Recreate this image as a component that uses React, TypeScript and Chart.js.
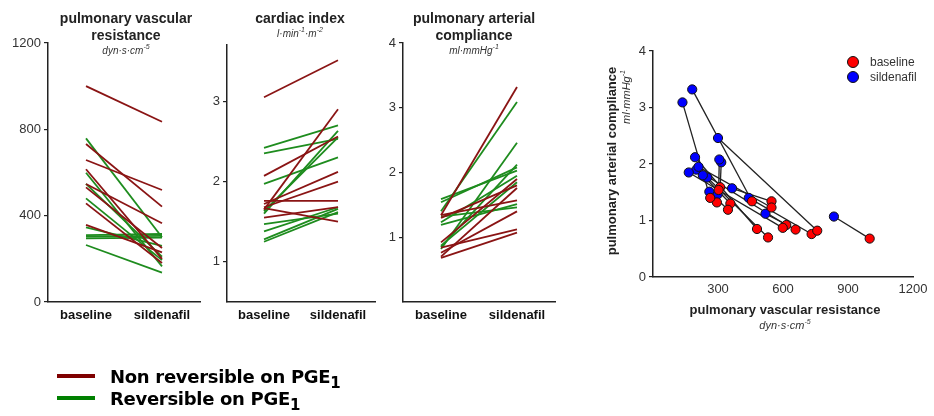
import React, { useEffect, useRef } from 'react';
import { Chart, registerables } from 'chart.js';
Chart.register(...registerables);

// ---------------- data ----------------
const CATEGORIES = ['baseline', 'sildenafil'];
// N = non reversible on PGE1, R = reversible on PGE1
const GROUP = ['N', 'N', 'N', 'N', 'N', 'N', 'N', 'N', 'R', 'R', 'R', 'R', 'R', 'R', 'R', 'R', 'R'];
const PVR_BASE = [1000, 732, 658, 615, 547, 531, 457, 357, 758, 599, 547, 480, 346, 310, 303, 295, 264];
const PVR_SIL = [835, 442, 519, 200, 365, 250, 181, 230, 300, 165, 210, 194, 260, 315, 306, 298, 136];
const CI_BASE = [3.05, 2.07, 1.65, 1.72, 1.68, 1.76, 1.67, 1.55, 2.42, 2.35, 1.97, 1.6, 1.63, 1.38, 1.25, 1.28, 1.47];
const CI_SIL = [3.51, 2.56, 2.9, 2.12, 2.0, 1.76, 1.5, 1.68, 2.7, 2.53, 2.3, 2.63, 2.55, 1.68, 1.62, 1.66, 1.6];
const PAC_BASE = [0.68, 0.76, 0.84, 0.92, 1.34, 0.7, 1.34, 1.3, 0.82, 0.87, 1.23, 0.85, 1.19, 1.59, 1.54, 1.32, 1.4];
const PAC_SIL = [1.07, 1.4, 1.12, 1.9, 1.57, 1.76, 3.32, 1.8, 2.46, 1.85, 1.95, 2.12, 1.51, 2.03, 2.08, 1.46, 3.09];

const PVR_TICKS = [0, 400, 800, 1200];
const CI_TICKS = [1, 2, 3];
const PAC_TICKS = [1, 2, 3, 4];
const SC_X_TICKS = [300, 600, 900, 1200];
const SC_Y_TICKS = [0, 1, 2, 3, 4];

// ---------------- style ----------------
const W = 934;
const H = 416;
const Y_W = 40;
const X_H = 30;
const FONT = '"Liberation Sans", Arial, sans-serif';
const RED_LINE = '#8a1414';
const GREEN_LINE = '#1e8c1e';

type Area = { left: number; right: number; top: number; bottom: number };

function layoutFor(a: Area) {
  return {
    padding: {
      left: a.left - Y_W,
      right: W - a.right,
      top: a.top,
      bottom: H - a.bottom - X_H,
    },
  };
}

const plainNumber = (v: any) => String(v);

function slopeConfig(base: number[], sil: number[], yMin: number, yMax: number, yTicks: number[], area: Area): any {
  const datasets = base.map((b, i) => ({
    data: [
      { x: 0, y: b },
      { x: 1, y: sil[i] },
    ],
    showLine: true,
    borderColor: GROUP[i] === 'N' ? RED_LINE : GREEN_LINE,
    borderWidth: 1.8,
    pointRadius: 0,
    pointHoverRadius: 0,
  }));
  return {
    type: 'scatter',
    data: { datasets },
    options: {
      responsive: false,
      animation: false,
      events: [],
      layout: layoutFor(area),
      plugins: { legend: { display: false }, tooltip: { enabled: false } },
      scales: {
        x: {
          type: 'linear',
          min: -0.5,
          max: 1.5,
          afterFit: (s: any) => {
            s.height = X_H;
          },
          afterBuildTicks: (s: any) => {
            s.ticks = [{ value: 0 }, { value: 1 }];
          },
          grid: { display: false, drawTicks: true, tickLength: 2 },
          border: { display: true, color: '#222', width: 1.5 },
          ticks: {
            autoSkip: false,
            maxRotation: 0,
            padding: 4,
            color: '#111',
            font: { family: FONT, size: 13, weight: 'bold' },
            callback: (v: any) => CATEGORIES[v] ?? '',
          },
        },
        y: {
          type: 'linear',
          min: yMin,
          max: yMax,
          afterFit: (s: any) => {
            s.width = Y_W;
          },
          afterBuildTicks: (s: any) => {
            s.ticks = yTicks.map((v) => ({ value: v }));
          },
          grid: { display: true, drawOnChartArea: false, drawTicks: true, tickLength: 4, color: '#222', lineWidth: 1.2 },
          border: { display: true, color: '#222', width: 1.5 },
          ticks: {
            autoSkip: false,
            padding: 3,
            color: '#333',
            font: { family: FONT, size: 13 },
            callback: plainNumber,
          },
        },
      },
    },
  };
}

function scatterConfig(area: Area): any {
  const lines = PVR_BASE.map((b, i) => ({
    data: [
      { x: b, y: PAC_BASE[i] },
      { x: PVR_SIL[i], y: PAC_SIL[i] },
    ],
    showLine: true,
    borderColor: '#222',
    borderWidth: 1.3,
    pointRadius: 0,
    pointHoverRadius: 0,
  }));
  const sil = {
    data: PVR_SIL.map((x, i) => ({ x, y: PAC_SIL[i] })),
    backgroundColor: '#0000ff',
    borderColor: '#111',
    borderWidth: 1,
    pointRadius: 4.6,
  };
  const base = {
    data: PVR_BASE.map((x, i) => ({ x, y: PAC_BASE[i] })),
    backgroundColor: '#ff0000',
    borderColor: '#111',
    borderWidth: 1,
    pointRadius: 4.6,
  };
  return {
    type: 'scatter',
    data: { datasets: [base, sil, ...lines] },
    options: {
      responsive: false,
      animation: false,
      events: [],
      layout: layoutFor(area),
      plugins: { legend: { display: false }, tooltip: { enabled: false } },
      scales: {
        x: {
          type: 'linear',
          min: 0,
          max: 1200,
          afterFit: (s: any) => {
            s.height = X_H;
          },
          afterBuildTicks: (s: any) => {
            s.ticks = SC_X_TICKS.map((v) => ({ value: v }));
          },
          grid: { display: false, drawTicks: true, tickLength: 2 },
          border: { display: true, color: '#222', width: 1.5 },
          ticks: {
            autoSkip: false,
            maxRotation: 0,
            padding: 3,
            color: '#333',
            font: { family: FONT, size: 13 },
            callback: plainNumber,
          },
        },
        y: {
          type: 'linear',
          min: 0,
          max: 4,
          afterFit: (s: any) => {
            s.width = Y_W;
          },
          afterBuildTicks: (s: any) => {
            s.ticks = SC_Y_TICKS.map((v) => ({ value: v }));
          },
          grid: { display: true, drawOnChartArea: false, drawTicks: true, tickLength: 4, color: '#222', lineWidth: 1.2 },
          border: { display: true, color: '#222', width: 1.5 },
          ticks: {
            autoSkip: false,
            padding: 3,
            color: '#333',
            font: { family: FONT, size: 13 },
            callback: plainNumber,
          },
        },
      },
    },
  };
}

function ChartCanvas({ config }: { config: any }) {
  const ref = useRef<HTMLCanvasElement | null>(null);
  useEffect(() => {
    if (!ref.current) return;
    const chart = new Chart(ref.current, config);
    return () => chart.destroy();
  }, []);
  return <canvas ref={ref} width={W} height={H} style={{ position: 'absolute', left: 0, top: 0, width: W, height: H }} />;
}

function Label({ x, y, children, style }: { x: number; y: number; children: any; style?: any }) {
  return (
    <div
      style={{
        position: 'absolute',
        left: x,
        top: y,
        transform: 'translate(-50%, -50%)',
        whiteSpace: 'nowrap',
        fontFamily: FONT,
        ...style,
      }}
    >
      {children}
    </div>
  );
}

const titleStyle = { fontWeight: 'bold', fontSize: 14, color: '#222', lineHeight: '17px', textAlign: 'center' };
const unitStyle = { fontStyle: 'italic', fontSize: 10, color: '#333' };
const supStyle = { fontSize: 7, verticalAlign: 'super', lineHeight: 0 };

const P1: Area = { left: 48, right: 200, top: 43, bottom: 302 };
const P2: Area = { left: 227, right: 375, top: 45, bottom: 302 };
const P3: Area = { left: 403, right: 555, top: 43, bottom: 302 };
const P4: Area = { left: 653, right: 913, top: 51, bottom: 277 };

export default function App() {
  return (
    <div style={{ position: 'absolute', left: 0, top: 0, width: W, height: H, background: '#fff', overflow: 'hidden' }}>
      <ChartCanvas config={slopeConfig(PVR_BASE, PVR_SIL, 0, 1200, PVR_TICKS, P1)} />
      <ChartCanvas config={slopeConfig(CI_BASE, CI_SIL, 0.5, 3.7, CI_TICKS, P2)} />
      <ChartCanvas config={slopeConfig(PAC_BASE, PAC_SIL, 0, 4, PAC_TICKS, P3)} />
      <ChartCanvas config={scatterConfig(P4)} />

      <Label x={126} y={27} style={titleStyle}>
        pulmonary vascular
        <br />
        resistance
      </Label>
      <Label x={126} y={50} style={unitStyle}>
        dyn·s·cm<span style={supStyle}>-5</span>
      </Label>

      <Label x={300} y={18} style={titleStyle}>
        cardiac index
      </Label>
      <Label x={300} y={33} style={unitStyle}>
        l·min<span style={supStyle}>-1</span>·m<span style={supStyle}>-2</span>
      </Label>

      <Label x={474} y={27} style={titleStyle}>
        pulmonary arterial
        <br />
        compliance
      </Label>
      <Label x={474} y={50} style={unitStyle}>
        ml·mmHg<span style={supStyle}>-1</span>
      </Label>

      {/* scatter axis titles */}
      <Label x={785} y={309} style={{ fontWeight: 'bold', fontSize: 13, color: '#222' }}>
        pulmonary vascular resistance
      </Label>
      <Label x={785} y={325} style={{ ...unitStyle, fontSize: 11 }}>
        dyn·s·cm<span style={supStyle}>-5</span>
      </Label>
      <Label x={611} y={161} style={{ fontWeight: 'bold', fontSize: 13, color: '#222', transform: 'translate(-50%, -50%) rotate(-90deg)' }}>
        pulmonary arterial compliance
      </Label>
      <Label x={626} y={97} style={{ ...unitStyle, fontSize: 11, transform: 'translate(-50%, -50%) rotate(-90deg)' }}>
        ml·mmHg<span style={supStyle}>-1</span>
      </Label>

      {/* scatter legend */}
      {[
        { label: 'baseline', color: '#ff0000', y: 62 },
        { label: 'sildenafil', color: '#0000ff', y: 77 },
      ].map((it) => (
        <div key={it.label} style={{ position: 'absolute', left: 847, top: it.y - 6, height: 12, display: 'flex', alignItems: 'center', fontFamily: FONT, fontSize: 12, color: '#333' }}>
          <span style={{ display: 'inline-block', width: 10, height: 10, borderRadius: '50%', background: it.color, border: '1px solid #111', marginRight: 11 }} />
          {it.label}
        </div>
      ))}

      {/* bottom legend */}
      {[
        { label: 'Non reversible on PGE', color: '#7f0000', y: 376 },
        { label: 'Reversible on PGE', color: '#008000', y: 398 },
      ].map((it) => (
        <div key={it.label} style={{ position: 'absolute', left: 57, top: it.y - 12, height: 24, display: 'flex', alignItems: 'center' }}>
          <span style={{ display: 'inline-block', width: 38, height: 4, background: it.color, marginRight: 15 }} />
          <span style={{ fontFamily: '"DejaVu Sans", Verdana, sans-serif', fontWeight: 'bold', fontSize: 18, letterSpacing: -0.3, color: '#000' }}>
            {it.label}
            <sub style={{ fontSize: 15, verticalAlign: -5, lineHeight: 0 }}>1</sub>
          </span>
        </div>
      ))}
    </div>
  );
}
